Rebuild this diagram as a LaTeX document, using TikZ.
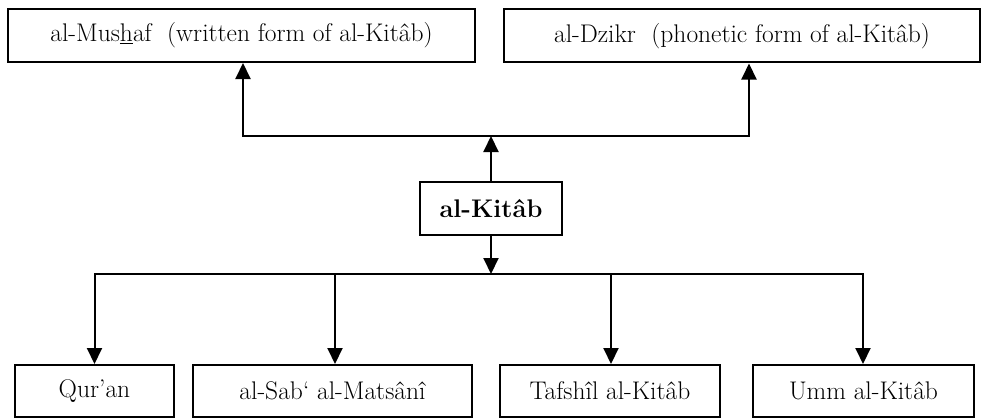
\documentclass[tikz,border=0pt]{standalone}
\usetikzlibrary{arrows.meta}
\begin{document}
\begin{tikzpicture}[x=1pt,y=-1pt,
  box/.style={draw=black,line width=2pt,fill=white,inner sep=0pt,
    font=\fontsize{25.5}{30}\selectfont},
  arr/.style={line width=2pt,-{Triangle[width=15pt,length=16pt]}}]
\useasboundingbox (0,0) rectangle (982,420);
\node[box,minimum width=467pt,minimum height=53pt] (mushaf) at (241.5,35.5)
  {al-Mus\underline{h}af\ \ (written form of al-Kit\^ab)};
\node[box,minimum width=476pt,minimum height=53pt] (dzikr) at (742,36)
  {al-Dzikr\ \ (phonetic form of al-Kit\^ab)};
\node[box,minimum width=142pt,minimum height=53pt] (kitab) at (491,208.5)
  {\bfseries al-Kit\^ab};
\node[box,minimum width=159pt,minimum height=52pt] (quran) at (94.5,391) {Qur’an};
\node[box,minimum width=279pt,minimum height=52pt] (sab) at (332.5,391) {al-Sab‘ al-Mats\^an\^{\i}};
\node[box,minimum width=220pt,minimum height=52pt] (tafshil) at (610,391) {Tafsh\^{\i}l al-Kit\^ab};
\node[box,minimum width=221pt,minimum height=52pt] (umm) at (863.5,391) {Umm al-Kit\^ab};
\coordinate (jt) at (491,136);
\coordinate (jb) at (491,274);
\draw[arr] (kitab.north) -- (jt);
\draw[arr] (jt) -| ([xshift=1.5pt]mushaf.south);
\draw[arr] (jt) -| ([xshift=7pt]dzikr.south);
\draw[arr] (kitab.south) -- (jb);
\draw[arr] (jb) -| (quran.north);
\draw[arr] (jb) -| ([xshift=2.5pt]sab.north);
\draw[arr] (jb) -| ([xshift=1pt]tafshil.north);
\draw[arr] (jb) -| ([xshift=-0.5pt]umm.north);
\end{tikzpicture}
\end{document}
